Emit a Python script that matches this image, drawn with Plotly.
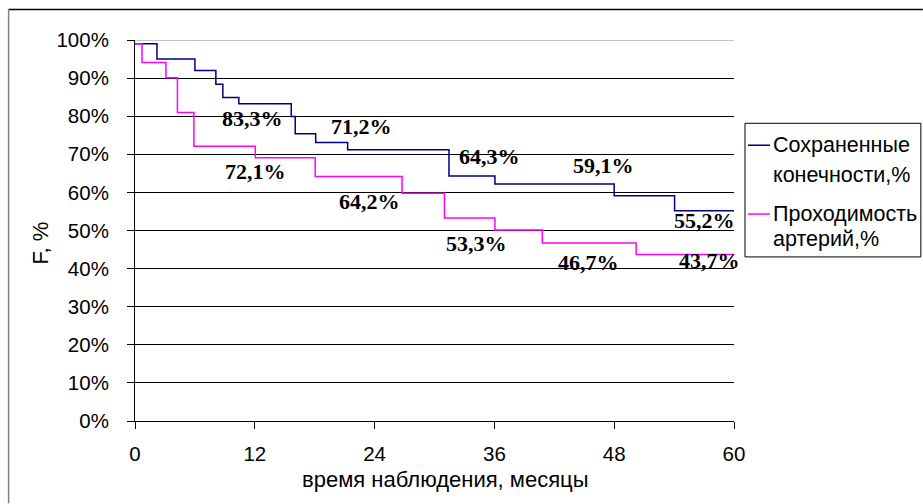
import plotly.graph_objects as go

# Data: survival curves (months, %)
limb_months = [0, 2.2, 6.0, 8.1, 8.8, 10.4, 15.65, 16.05, 18.1, 21.3, 31.45, 36.05, 48.0, 54.05, 60]
limb_values = [99, 95, 92, 88.4, 84.9, 83.3, 79.9, 75.4, 73.1, 71.2, 64.3, 62.2, 59.1, 55.2, 55.2]

artery_months = [0, 0.7, 3.1, 4.25, 5.9, 12.05, 18.05, 26.75, 31.0, 36.05, 40.8, 50.2, 60]
artery_values = [99, 94.1, 90.1, 81.0, 72.1, 69.1, 64.2, 59.8, 53.3, 50.1, 46.7, 43.7, 43.7]

series_names = [["Сохраненные", "конечности,%"], ["Проходимость", "артерий,%"]]
series_colors = ["#000080", "#FF00FF"]

# Data labels (text and anchor in data coordinates)
label_texts = ["83,3%", "71,2%", "64,3%", "59,1%", "55,2%",
               "72,1%", "64,2%", "53,3%", "46,7%", "43,7%"]
label_x = [11.8, 22.7, 35.5, 46.9, 57.05, 12.1, 23.45, 34.2, 45.45, 57.55]
label_y = [79.4, 77.4, 69.3, 67.1, 52.7, 65.4, 57.5, 46.5, 41.6, 42.1]

x_ticks = [0, 12, 24, 36, 48, 60]
y_ticks = list(range(0, 101, 10))

x_title = "время наблюдения, месяцы"
y_title = "F, %"

SANS = "Liberation Sans, Arial, sans-serif"
TICK_FONT = dict(family=SANS, size=20.5, color="black")
TITLE_FONT = dict(family=SANS, size=22, color="black")
LEG_FONT = dict(family=SANS, size=21.5, color="black")
LABEL_FONT = dict(family="Liberation Serif, Times New Roman, serif", size=22, color="black")

# plot-area geometry (px) used for paper conversion
W, H = 923, 504
L, R, T, B = 134.5, 189, 39.5, 82.5
PW, PH = W - L - R, H - T - B


def px(xp):
    return (xp - L) / PW


def py(yp):
    return (H - B - yp) / PH


fig = go.Figure()
fig.add_trace(go.Scatter(x=limb_months, y=limb_values, mode="lines", line_shape="hv",
                         line=dict(color=series_colors[0], width=1.5),
                         name=" ".join(series_names[0])))
fig.add_trace(go.Scatter(x=artery_months, y=artery_values, mode="lines", line_shape="hv",
                         line=dict(color=series_colors[1], width=1.5),
                         name=" ".join(series_names[1])))

for t, x, y in zip(label_texts, label_x, label_y):
    fig.add_annotation(x=x, y=y, text="<b>" + t + "</b>", showarrow=False,
                       font=LABEL_FONT, xanchor="center", yanchor="middle")

# axis titles
fig.add_annotation(xref="paper", yref="paper", x=px(445), y=py(480), text=x_title,
                   showarrow=False, xanchor="center", yanchor="middle", font=TITLE_FONT)
fig.add_annotation(xref="paper", yref="paper", x=px(40), y=py(243), text=y_title,
                   showarrow=False, xanchor="center", yanchor="middle", textangle=-90,
                   font=TITLE_FONT)

# gray top gridline
fig.add_shape(type="line", xref="x", yref="y", x0=0, x1=60, y0=100, y1=100,
              line=dict(color="#b0b0b0", width=1.5), layer="above")
# outer frame (top black, left gray)
fig.add_shape(type="line", xref="paper", yref="paper", x0=px(8), x1=px(W), y0=py(9), y1=py(9),
              line=dict(color="black", width=1.5))
fig.add_shape(type="line", xref="paper", yref="paper", x0=px(8), x1=px(8), y0=py(9), y1=py(H),
              line=dict(color="#808080", width=1.5))

# legend (box, samples, text)
fig.add_shape(type="rect", xref="paper", yref="paper", x0=px(745), x1=px(921), y0=py(257), y1=py(123),
              line=dict(color="black", width=1), fillcolor="white")
sample_y = [145, 214]
text_rows = [[145, 175], [214, 239]]
for i in range(2):
    fig.add_shape(type="line", xref="paper", yref="paper", x0=px(748), x1=px(770),
                  y0=py(sample_y[i]), y1=py(sample_y[i]),
                  line=dict(color=series_colors[i], width=1.5))
    for txt, yy in zip(series_names[i], text_rows[i]):
        fig.add_annotation(xref="paper", yref="paper", x=px(771), y=py(yy), text=txt,
                           showarrow=False, xanchor="left", yanchor="middle", font=LEG_FONT)

fig.update_layout(
    width=W, height=H,
    margin=dict(l=L, r=R, t=T, b=B, autoexpand=False),
    paper_bgcolor="white", plot_bgcolor="white",
    showlegend=False,
    xaxis=dict(range=[0, 60], tickvals=x_ticks, ticktext=[str(v) for v in x_ticks],
               showgrid=False, zeroline=False, showline=True, linecolor="black", linewidth=1,
               ticks="outside", ticklen=7, tickcolor="black", tickfont=TICK_FONT,
               ticklabelstandoff=7),
    yaxis=dict(range=[0, 100], tickvals=y_ticks, ticktext=[f"{v}%" for v in y_ticks],
               showgrid=True, gridcolor="black", gridwidth=1, zeroline=False,
               showline=True, linecolor="black", linewidth=1,
               ticks="outside", ticklen=7, tickcolor="black", tickfont=TICK_FONT,
               ticklabelstandoff=14),
)

fig.write_html("out.html", post_script="document.body.style.margin='0';",
               config={"displayModeBar": False})
